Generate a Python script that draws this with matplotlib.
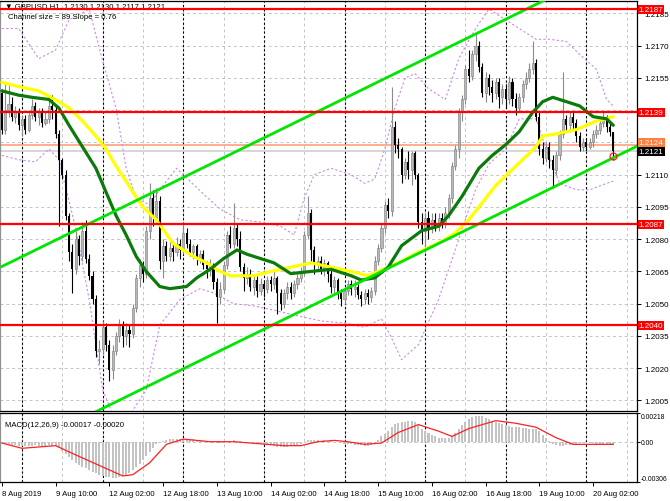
import numpy as np
import matplotlib.pyplot as plt
from matplotlib.transforms import blended_transform_factory

plt.rcParams['font.family'] = ['Liberation Sans', 'DejaVu Sans']

pip = 0.0001
base = 1.2000

# GBPUSD H1, 8 Aug 18:00 .. 20 Aug 08:00, prices in pips above 1.2000
open_p = [148, 131, 140, 143, 137, 139, 133, 136, 131, 138, 142, 137, 139, 134, 136, 142,
          140, 129, 117, 110, 91, 74, 66, 80, 72, 84, 71, 63, 52, 28, 29, 39,
          31, 19, 28, 35, 40, 35, 38, 36, 48, 62, 68, 64, 84, 99, 90, 98,
          70, 77, 72, 76, 74, 78, 75, 83, 78, 74, 77, 71, 73, 68, 66, 68,
          60, 53, 57, 68, 82, 78, 85, 80, 67, 62, 64, 58, 61, 56, 59, 57,
          61, 59, 62, 55, 50, 55, 58, 55, 59, 62, 65, 82, 92, 75, 68, 70,
          66, 69, 64, 58, 61, 55, 52, 56, 59, 57, 58, 54, 52, 55, 53, 56,
          70, 76, 85, 96, 93, 132, 124, 122, 110, 116, 112, 120, 110, 88, 84, 90,
          85, 89, 86, 90, 87, 92, 99, 114, 122, 139, 145, 159, 156, 166, 170, 160,
          148, 155, 151, 148, 153, 146, 150, 145, 153, 145, 141, 146, 152, 155, 159, 162,
          137, 122, 118, 123, 117, 112, 119, 129, 136, 133, 137, 134, 128, 123, 125, 123,
          125, 129, 131, 134, 136, 132, 130]
close_p = [131, 140, 143, 137, 139, 133, 136, 131, 138, 142, 137, 139, 134, 136, 142, 140,
           129, 117, 110, 91, 74, 66, 80, 72, 84, 71, 63, 52, 28, 29, 39, 31,
           19, 28, 35, 40, 35, 38, 36, 48, 62, 68, 64, 84, 99, 90, 98, 70,
           77, 72, 76, 74, 78, 75, 83, 78, 74, 77, 71, 73, 68, 66, 68, 60,
           53, 57, 68, 82, 78, 85, 80, 67, 62, 64, 58, 61, 56, 59, 57, 61,
           59, 62, 55, 50, 55, 58, 55, 59, 62, 65, 82, 92, 75, 68, 70, 66,
           69, 64, 58, 61, 55, 52, 56, 59, 57, 58, 54, 52, 55, 53, 56, 70,
           76, 85, 96, 93, 132, 124, 122, 110, 116, 112, 120, 110, 88, 84, 90, 85,
           89, 86, 90, 87, 92, 99, 114, 122, 139, 145, 159, 156, 166, 170, 160, 148,
           155, 151, 148, 153, 146, 150, 145, 153, 145, 141, 146, 152, 155, 159, 162, 137,
           122, 118, 123, 117, 112, 119, 129, 136, 133, 137, 134, 128, 123, 125, 123, 125,
           129, 131, 134, 136, 132, 130, 121]
high_p = [150, 152, 152, 146, 142, 141, 138, 138, 140, 145, 144, 141, 141, 139, 145, 147,
          142, 131, 118, 112, 92, 78, 84, 82, 88, 89, 73, 65, 54, 33, 42, 41,
          33, 31, 37, 43, 42, 41, 40, 50, 64, 71, 70, 86, 106, 103, 104, 100,
          80, 79, 79, 79, 81, 80, 87, 85, 80, 78, 78, 75, 75, 70, 71, 69,
          62, 60, 70, 84, 86, 97, 87, 84, 69, 67, 66, 63, 63, 62, 61, 63,
          63, 65, 63, 57, 57, 60, 60, 61, 64, 67, 84, 100, 94, 77, 72, 72,
          71, 70, 66, 63, 62, 57, 58, 61, 61, 61, 59, 56, 57, 57, 58, 72,
          78, 87, 98, 99, 151, 135, 127, 123, 118, 121, 121, 121, 111, 92, 92, 93,
          92, 92, 92, 92, 95, 101, 116, 124, 141, 147, 161, 168, 168, 176, 172, 162,
          158, 157, 154, 155, 155, 152, 152, 156, 155, 148, 148, 154, 158, 162, 172, 164,
          139, 125, 125, 125, 119, 121, 131, 158, 138, 139, 139, 136, 130, 127, 127, 127,
          131, 133, 136, 139, 138, 134, 130]
low_p = [129, 129, 137, 135, 134, 131, 128, 129, 130, 136, 135, 133, 132, 133, 134, 136,
         127, 86, 108, 89, 70, 55, 64, 68, 70, 69, 61, 50, 25, 22, 26, 28,
         14, 15, 26, 32, 30, 31, 30, 34, 46, 58, 60, 62, 80, 86, 88, 66,
         62, 70, 70, 70, 72, 71, 73, 76, 72, 71, 68, 69, 66, 62, 63, 57,
         41, 50, 55, 66, 76, 76, 77, 65, 56, 59, 56, 54, 53, 54, 53, 55,
         56, 57, 45, 47, 48, 52, 52, 53, 57, 60, 63, 80, 70, 64, 66, 64,
         63, 60, 55, 54, 52, 49, 50, 54, 54, 53, 52, 49, 50, 50, 51, 54,
         68, 74, 83, 90, 91, 120, 118, 106, 108, 108, 105, 108, 85, 78, 76, 80,
         83, 84, 84, 85, 85, 90, 97, 112, 118, 135, 143, 153, 154, 163, 158, 146,
         144, 147, 144, 145, 141, 143, 141, 143, 142, 138, 139, 144, 150, 153, 157, 135,
         119, 115, 116, 113, 104, 110, 117, 127, 131, 130, 131, 125, 121, 121, 121, 122,
         123, 127, 129, 132, 130, 128, 117]

# moving averages (bar index, price)
ma_yellow_idx = [0, 5, 11, 17, 20, 24, 28, 31, 34, 37, 39, 42, 46, 51, 57, 61, 65, 68, 75, 80,
                 86, 92, 98, 104, 109, 112, 118, 124, 131, 135, 139, 141, 147, 153, 159, 161,
                 165, 171, 177, 182]
ma_yellow = [1.2153, 1.2151, 1.2149, 1.2144, 1.2141, 1.2135, 1.2128, 1.2122, 1.2114, 1.2107,
             1.2102, 1.2095, 1.2089, 1.2078, 1.2072, 1.2069, 1.2065, 1.2063, 1.2063, 1.2065,
             1.2067, 1.2069, 1.2067, 1.2065, 1.2063, 1.2065, 1.2069, 1.2074, 1.2079, 1.2083,
             1.2089, 1.2093, 1.2105, 1.2114, 1.2123, 1.2128, 1.2129, 1.2131, 1.2135, 1.2137]
ma_green_idx = [0, 5, 9, 14, 17, 20, 24, 28, 31, 34, 37, 40, 43, 47, 50, 55, 58, 62, 66, 70,
                73, 77, 81, 86, 92, 98, 104, 107, 111, 115, 119, 125, 130, 133, 137, 142, 146,
                150, 154, 158, 161, 164, 168, 172, 176, 180, 182]
ma_green = [1.2149, 1.2147, 1.2146, 1.2145, 1.2141, 1.2133, 1.2123, 1.2113, 1.2102, 1.2091,
            1.2082, 1.2072, 1.2065, 1.2058, 1.2057, 1.2058, 1.2062, 1.2066, 1.2071, 1.2075,
            1.2073, 1.2071, 1.2069, 1.2064, 1.2065, 1.2066, 1.2063, 1.2061, 1.2062, 1.2067,
            1.2077, 1.2084, 1.2086, 1.2091, 1.2100, 1.2113, 1.2119, 1.2124, 1.2130, 1.2139,
            1.2144, 1.2146, 1.2144, 1.2142, 1.2137, 1.2136, 1.2133]

# envelope bands (bar index, price)
band_up_idx = [0, 5, 11, 16, 20, 26, 30, 34, 37, 40, 44, 47, 52, 56, 60, 65, 71, 77, 83, 87,
               90, 93, 98, 104, 108, 111, 114, 117, 120, 123, 127, 132, 136, 141, 145, 150,
               154, 159, 163, 168, 172, 177, 180, 182]
band_up = [1.2178, 1.2178, 1.2164, 1.2168, 1.2182, 1.2187, 1.2163, 1.2141, 1.2113, 1.2099,
           1.2096, 1.2103, 1.2113, 1.2107, 1.2101, 1.2094, 1.2089, 1.2088, 1.2086, 1.2082,
           1.2099, 1.2110, 1.2113, 1.2110, 1.2106, 1.2108, 1.2122, 1.2141, 1.2155, 1.2157,
           1.2150, 1.2145, 1.2164, 1.2178, 1.2187, 1.2182, 1.2178, 1.2173, 1.2173, 1.2172,
           1.2166, 1.2159, 1.2145, 1.2142]
band_lo_idx = [0, 5, 10, 14, 17, 22, 26, 30, 34, 38, 43, 47, 53, 59, 63, 69, 75, 81, 89, 95,
               102, 108, 113, 116, 119, 124, 130, 136, 141, 145, 150, 154, 159, 162, 166, 171,
               175, 180, 182]
band_lo = [1.2119, 1.2117, 1.2116, 1.2122, 1.2117, 1.2085, 1.2052, 1.2010, 1.1995, 1.1998,
           1.2010, 1.2040, 1.2052, 1.2057, 1.2055, 1.2050, 1.2049, 1.2047, 1.2044, 1.2042,
           1.2041, 1.2039, 1.2043, 1.2034, 1.2024, 1.2031, 1.2052, 1.2080, 1.2103, 1.2115,
           1.2122, 1.2136, 1.2136, 1.2122, 1.2106, 1.2103, 1.2103, 1.2106, 1.2107]

# equidistant channel (two anchors each)
chan_idx = [0, 190]
chan_upper = [1.20673, 1.22130]
chan_lower = [1.19783, 1.21240]

levels = [1.2187, 1.2139, 1.2087, 1.2040]
ask_level = 1.2124
bid_level = 1.2121

# MACD(12,26,9), main line as histogram (x 1e-5) and signal line
macd_main = [-10, -15, -20, -25, -28, -30, -33, -35, -33, -30, -28, -30, -32, -30, -28, -30,
             -35, -50, -70, -92, -115, -138, -158, -175, -190, -202, -215, -228, -240, -250,
             -258, -265, -270, -272, -272, -270, -262, -250, -235, -215, -190, -168, -140,
             -110, -80, -48, -20, -2, 8, 14, 18, 20, 22, 22, 24, 22, 20, 18, 15, 10, 5, 0,
             -3, -8, -12, -10, -5, 2, 8, 10, 8, 3, 0, -3, -5, -8, -10, -12, -15, -22, -28,
             -32, -38, -42, -42, -40, -35, -30, -22, -15, 0, 12, 15, 12, 10, 8, 10, 8, 2, 0,
             -5, -12, -15, -18, -20, -22, -25, -28, -30, -30, -28, -15, 10, 40, 60, 85, 110,
             135, 142, 148, 152, 155, 158, 150, 125, 95, 80, 65, 50, 40, 32, 28, 28, 32, 45,
             65, 95, 125, 150, 172, 188, 198, 198, 192, 182, 172, 160, 148, 140, 132, 125,
             120, 115, 112, 110, 105, 102, 100, 98, 95, 80, 50, 25, 5, -15, -28, -35, -32,
             -28, -22, -18, -15, -12, -12, -12, -13, -13, -14, -14, -15, -15, -16, -17]
signal_idx = [0, 6, 16, 22, 29, 36, 39, 44, 49, 54, 62, 69, 79, 84, 89, 94, 99, 103, 108, 113,
              118, 124, 130, 134, 139, 147, 153, 159, 165, 170, 177, 182]
signal = [-10, -50, -30, -100, -180, -260, -250, -160, -20, 20, 0, 0, -20, -30, -30, 0, 10, 0,
          -20, -10, 70, 130, 80, 40, 100, 160, 140, 110, 30, -20, -20, -20]

price_ticks = [1.2005, 1.2020, 1.2035, 1.2050, 1.2065, 1.2080, 1.2095, 1.2110, 1.2125,
               1.2140, 1.2155, 1.2170, 1.2185]
hidden_ticks = [1.2125, 1.2140]   # covered by the level boxes
time_ticks = [0, 16, 32, 48, 64, 80, 96, 112, 128, 144, 160, 176]
time_labels = ['8 Aug 2019', '9 Aug 10:00', '12 Aug 02:00', '12 Aug 18:00', '13 Aug 10:00',
               '14 Aug 02:00', '14 Aug 18:00', '15 Aug 10:00', '16 Aug 02:00', '16 Aug 18:00',
               '19 Aug 10:00', '20 Aug 02:00']
day_starts = [6, 30, 54, 78, 102, 126, 150, 174]

o = base + np.array(open_p) * pip
c = base + np.array(close_p) * pip
h = base + np.array(high_p) * pip
l = base + np.array(low_p) * pip
idx = np.arange(len(c))
up = c >= o

fig = plt.figure(figsize=(6.7, 5.02), dpi=100)
ax = fig.add_axes([0.0, 0.1793, 0.9507, 0.8167])
ax2 = fig.add_axes([0.0, 0.0378, 0.9507, 0.1375])
xmin, xmax = -0.54, 189.05

for a in (ax, ax2):
    a.set_xlim(xmin, xmax)
    for i in range(6, 190, 12):
        a.axvline(i, color='#c4c4c4', lw=0.7, ls=(0, (3, 3)), zorder=1)
    for d in day_starts:
        a.axvline(d, color='black', lw=0.8, ls=(0, (2, 2)), zorder=1.5)
    for s in a.spines.values():
        s.set_linewidth(0.9)
    a.spines['left'].set_color('#909090')
    a.yaxis.tick_right()
    a.tick_params(axis='y', labelsize=5.8, length=3, pad=2, width=0.7)

ax.set_ylim(1.20001, 1.21908)
for p in price_ticks:
    ax.axhline(p, color='#c4c4c4', lw=0.7, ls=(0, (3, 3)), zorder=1)
ax.set_yticks(price_ticks)
ax.set_yticklabels(['' if p in hidden_ticks else f'{p:.4f}' for p in price_ticks])
ax.set_xticks([])

# candles
ax.vlines(idx[up], l[up], h[up], color='#8a8a8a', lw=0.8, zorder=4)
ax.vlines(idx[~up], l[~up], h[~up], color='black', lw=0.8, zorder=4)
ax.bar(idx[up], (c - o)[up], bottom=o[up], width=0.62, color='#b8b8b8',
       edgecolor='#7a7a7a', lw=0.4, zorder=5)
ax.bar(idx[~up], (c - o)[~up], bottom=o[~up], width=0.62, color='black', lw=0, zorder=5)

# indicators
ax.plot(band_up_idx, band_up, color='#c98ae6', lw=0.8, ls=(0, (2, 2)), zorder=3)
ax.plot(band_lo_idx, band_lo, color='#c98ae6', lw=0.8, ls=(0, (2, 2)), zorder=3)
ax.plot(ma_yellow_idx, ma_yellow, color='#ffff00', lw=2.3, zorder=6, solid_capstyle='round')
ax.plot(ma_green_idx, ma_green, color='#0b7a0b', lw=2.3, zorder=6.5, solid_capstyle='round')
ax.plot(chan_idx, chan_upper, color='#00e600', lw=2.0, zorder=7)
ax.plot(chan_idx, chan_lower, color='#00e600', lw=2.0, zorder=7)

for lv in levels:
    ax.axhline(lv, color='#ff0000', lw=1.6, zorder=7)
ax.axhline(ask_level, color='#ffa07a', lw=1.2, zorder=2)
ax.axhline(bid_level, color='#cfcfcf', lw=1.2, zorder=2)
ax.plot([idx[-1]], [base + 118.7 * pip], marker='o', ms=5, mfc='none', mec='#ff2020',
        mew=0.9, zorder=8)

# price boxes on the right scale
tr = blended_transform_factory(ax.transAxes, ax.transData)
box_items = [(lv, '#ff0000', 0) for lv in levels] + \
            [(ask_level, '#ff7f3f', 0.00008), (bid_level, 'black', -0.00002)]
for lv, col, dy in box_items:
    ax.text(1.003, lv + dy, f'{lv:.4f}', transform=tr, color='white', fontsize=5.8,
            va='center', ha='left', clip_on=False, zorder=10,
            bbox=dict(boxstyle='square,pad=0.12', fc=col, ec='none'))

ax.text(0.008, 0.99, '\u25bc GBPUSD,H1  1.2130 1.2130 1.2117 1.2121', transform=ax.transAxes,
        fontsize=5.6, va='center', ha='left', zorder=3)
ax.text(0.012, 0.962, 'Channel size = 89 Slope = 0.76', transform=ax.transAxes,
        fontsize=5.6, va='center', ha='left', zorder=3)

# MACD panel
macd = np.array(macd_main) * 1e-5
ax2.set_ylim(-0.00306, 0.00218)
ax2.axhline(0, color='#c4c4c4', lw=0.7, ls=(0, (3, 3)), zorder=1)
ax2.bar(idx, macd, width=0.6, color='#c3c3c3', lw=0, zorder=3)
ax2.plot(signal_idx, np.array(signal) * 1e-5, color='#ff2020', lw=0.9, zorder=4)
ax2.set_yticks([0.00218, 0.0, -0.00306])
ax2.set_yticklabels(['0.00218', '0.00', '-0.00306'])
ax2.tick_params(axis='y', labelsize=4.9, pad=1, length=2)
tl = ax2.get_yticklabels()
tl[0].set_va('top')
tl[2].set_va('bottom')
ax2.text(0.008, 0.83, 'MACD(12,26,9) -0.00017 -0.00020', transform=ax2.transAxes,
         fontsize=5.6, va='center', ha='left')
ax2.set_xticks(time_ticks)
ax2.set_xticklabels(time_labels, fontsize=5.6, ha='left')
ax2.tick_params(axis='x', length=3, pad=3, width=0.7)

fig.savefig('out.png', dpi=100)
